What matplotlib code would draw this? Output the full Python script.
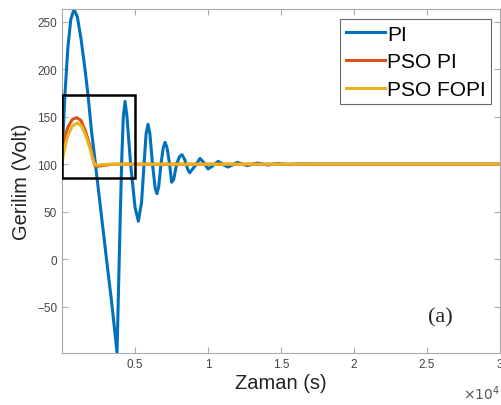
import matplotlib.pyplot as plt
from matplotlib.patches import Rectangle

# values (time in s, voltage in V)
t_pi = [0, 100, 200, 400, 600, 820, 1050, 1300, 1550, 1780, 2020, 2260, 2670, 3050, 3400, 3770,
        3950, 4090, 4200, 4320, 4450, 4700, 5000, 5230, 5450, 5620, 5760, 5890, 6020, 6200,
        6380, 6500, 6620, 6780, 6930, 7060, 7200, 7370, 7510, 7650, 7850, 8050, 8220, 8400,
        8600, 8750, 8950, 9200, 9450, 9700, 10000, 10300, 10700, 11000, 11350, 11650, 12000,
        12350, 12700, 13050, 13400, 13750, 14100, 14450, 14800, 15150, 15500, 16200, 17000, 30000]
v_pi = [100, 140, 173, 222, 252, 263, 255, 232, 203, 173, 135, 104, 50, 0, -45, -98,
        20, 104, 150, 166, 150, 100, 55, 40, 60, 100, 132, 142, 132, 100,
        75, 69, 76, 100, 117, 123, 117, 100, 81, 84, 100, 108, 110, 105,
        95, 91, 95, 100, 106, 102, 95, 98, 103, 100, 97, 99, 102,
        100, 98.5, 100, 101.2, 100, 99.2, 100, 100.7, 100, 99.6, 100.2, 100, 100]

t_psopi = [0, 200, 400, 700, 1000, 1300, 1600, 1900, 2150, 2260, 2500, 3000, 3500, 30000]
v_psopi = [113, 128, 139, 147, 149, 146, 135, 120, 104, 98, 98, 99, 100, 100]

t_fopi = [0, 200, 400, 700, 1050, 1350, 1650, 1950, 2200, 2300, 2800, 3300, 30000]
v_fopi = [102, 118, 130, 140, 143.5, 140, 129, 115, 101, 99, 99.5, 100, 100]

labels = ['PI', 'PSO PI', 'PSO FOPI']
xticks = [5000, 10000, 15000, 20000, 25000, 30000]
xticklabels = ['0.5', '1', '1.5', '2', '2.5', '3']
yticks = [-50, 0, 50, 100, 150, 200, 250]

plt.rcParams['font.family'] = 'Liberation Sans'

fig = plt.figure(figsize=(5.02, 4.06), dpi=100)
ax = fig.add_axes([0.1235, 0.128, 0.8725, 0.847])

ax.plot(t_pi, v_pi, color='#0072BD', lw=2.2, label=labels[0])
ax.plot(t_psopi, v_psopi, color='#D95319', lw=2.2, label=labels[1])
ax.plot(t_fopi, v_fopi, color='#EDB120', lw=2.2, label=labels[2])

ax.add_patch(Rectangle((0, 85), 5000, 88, fill=False, edgecolor='black', lw=1.8, zorder=5))

ax.set_xlim(0, 30000)
ax.set_ylim(-98.5, 263)
ax.set_xticks(xticks)
ax.set_xticklabels(xticklabels)
ax.set_yticks(yticks)
ax.tick_params(direction='in', length=4, width=0.8, colors='#aaaaaa', labelcolor='#444444',
               labelsize=8.5, top=True, right=True)
for s in ax.spines.values():
    s.set_color('#aaaaaa')
    s.set_linewidth(0.8)

ax.set_xlabel('Zaman (s)', fontsize=14.5, color='#222222', labelpad=2)
ax.set_ylabel('Gerilim (Volt)', fontsize=14.5, color='#222222', labelpad=4)
ax.text(1.0, -0.115, r'$\times10^4$', transform=ax.transAxes, ha='right', va='center',
        fontsize=10, color='#555555')
ax.text(0.865, 0.105, '(a)', transform=ax.transAxes, ha='center', va='center',
        fontsize=16, family='Liberation Serif', color='#222222')

leg = ax.legend(loc='upper right', bbox_to_anchor=(0.98, 0.97), fontsize=15, frameon=True,
                fancybox=False, edgecolor='#444444', handlelength=1.9, handletextpad=0.1,
                labelspacing=0.42, borderpad=0.25, borderaxespad=0)
leg.get_frame().set_linewidth(0.8)

fig.savefig('out.png', dpi=100)
